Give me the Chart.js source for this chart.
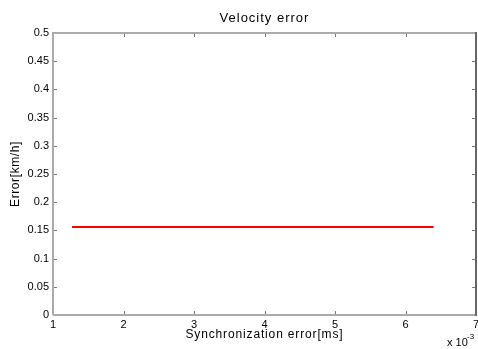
<!DOCTYPE html>
<html>
<head>
<meta charset="utf-8">
<script src="https://cdn.jsdelivr.net/npm/chart.js@4.4.1/dist/chart.umd.min.js"></script>
<style>
  html, body { margin: 0; padding: 0; background: #fff; }
  #c { display: block; }
</style>
</head>
<body>
<canvas id="c" width="478" height="349"></canvas>
<script>
// ----------------- Données -----------------
const syncError = [0.00127, 0.002, 0.003, 0.004, 0.005, 0.006, 0.0064]; // secondes
const velError  = [0.156, 0.156, 0.156, 0.156, 0.156, 0.156, 0.156];     // km/h

const xTicks = [0.001, 0.002, 0.003, 0.004, 0.005, 0.006, 0.007];
const xTickLabels = ['1', '2', '3', '4', '5', '6', '7'];
const yTicks = [0, 0.05, 0.1, 0.15, 0.2, 0.25, 0.3, 0.35, 0.4, 0.45, 0.5];
const yTickLabels = ['0', '0.05', '0.1', '0.15', '0.2', '0.25', '0.3', '0.35', '0.4', '0.45', '0.5'];

const FONT = 'Arial, "Liberation Sans", sans-serif';

// ----------------- Cadre, graduations internes et textes -----------------
const matlabAxes = {
  id: 'matlabAxes',
  afterDraw(chart) {
    const ctx = chart.ctx;
    const a = chart.chartArea;
    const xs = chart.scales.x, ys = chart.scales.y;
    ctx.save();
    // graduations vers l'intérieur
    ctx.lineWidth = 1;
    ctx.strokeStyle = '#777';
    xs.ticks.forEach(t => {
      const px = Math.round(xs.getPixelForValue(t.value)) + 0.5;
      ctx.beginPath();
      ctx.moveTo(px, a.bottom); ctx.lineTo(px, a.bottom - 4);
      ctx.moveTo(px, a.top); ctx.lineTo(px, a.top + 4);
      ctx.stroke();
    });
    ys.ticks.forEach(t => {
      const py = Math.round(ys.getPixelForValue(t.value)) + 0.5;
      ctx.beginPath();
      ctx.moveTo(a.left, py); ctx.lineTo(a.left + 4, py);
      ctx.moveTo(a.right, py); ctx.lineTo(a.right - 4, py);
      ctx.stroke();
    });
    // bordure
    ctx.lineWidth = 2;
    ctx.strokeStyle = '#aaa';
    ctx.beginPath();
    ctx.moveTo(a.left, a.bottom); ctx.lineTo(a.left, a.top); ctx.lineTo(a.right, a.top);
    ctx.moveTo(a.left, a.bottom); ctx.lineTo(a.right, a.bottom);
    ctx.stroke();
    ctx.strokeStyle = '#666';
    ctx.beginPath();
    ctx.moveTo(a.right, a.top - 1); ctx.lineTo(a.right, a.bottom + 1);
    ctx.stroke();

    // textes
    ctx.fillStyle = '#000';
    ctx.textAlign = 'center';
    ctx.textBaseline = 'middle';
    const cx = (a.left + a.right) / 2;
    ctx.font = '13px ' + FONT;
    ctx.letterSpacing = '1px';
    ctx.fillText('Velocity error', cx, 18);
    ctx.font = '12px ' + FONT;
    ctx.letterSpacing = '0.85px';
    ctx.fillText('Synchronization error[ms]', cx, 335);
    ctx.save();
    ctx.translate(16, (a.top + a.bottom) / 2);
    ctx.rotate(-Math.PI / 2);
    ctx.letterSpacing = '0.6px';
    ctx.fillText('Error[km/h]', 0, 0);
    ctx.restore();
    // facteur d'échelle
    ctx.letterSpacing = '0px';
    ctx.textAlign = 'left';
    ctx.font = '11px ' + FONT;
    ctx.fillText('x 10', 447, 343);
    ctx.font = '8px ' + FONT;
    ctx.fillText('-3', 467, 337);
    ctx.restore();
  }
};

// ----------------- Graphique -----------------
const chart = new Chart(document.getElementById('c').getContext('2d'), {
  type: 'line',
  data: {
    datasets: [{
      data: syncError.map((x, i) => ({ x: x, y: velError[i] })),
      borderColor: '#ff0000',
      borderWidth: 2,
      pointRadius: 0,
      fill: false,
      tension: 0
    }]
  },
  options: {
    responsive: false,
    animation: false,
    layout: { padding: { left: 0, right: 2, top: 33, bottom: 0 } },
    plugins: { legend: { display: false }, tooltip: { enabled: false }, title: { display: false } },
    scales: {
      x: {
        type: 'linear',
        min: 0.001, max: 0.007,
        afterBuildTicks: s => { s.ticks = xTicks.map(v => ({ value: v })); },
        afterFit: s => { s.height = 34; s.paddingLeft = 0; s.paddingRight = 0; },
        grid: { display: false, drawTicks: false },
        border: { display: false },
        ticks: {
          padding: 3,
          maxRotation: 0,
          color: '#000',
          font: { family: FONT, size: 11 },
          callback: (v, i) => xTickLabels[i]
        }
      },
      y: {
        min: 0, max: 0.5,
        afterBuildTicks: s => { s.ticks = yTicks.map(v => ({ value: v })); },
        afterFit: s => { s.width = 53; s.paddingTop = 0; s.paddingBottom = 0; },
        grid: { display: false, drawTicks: false },
        border: { display: false },
        ticks: {
          padding: 4,
          color: '#000',
          font: { family: FONT, size: 11 },
          callback: (v, i) => yTickLabels[i]
        }
      }
    }
  },
  plugins: [matlabAxes]
});
</script>
</body>
</html>
